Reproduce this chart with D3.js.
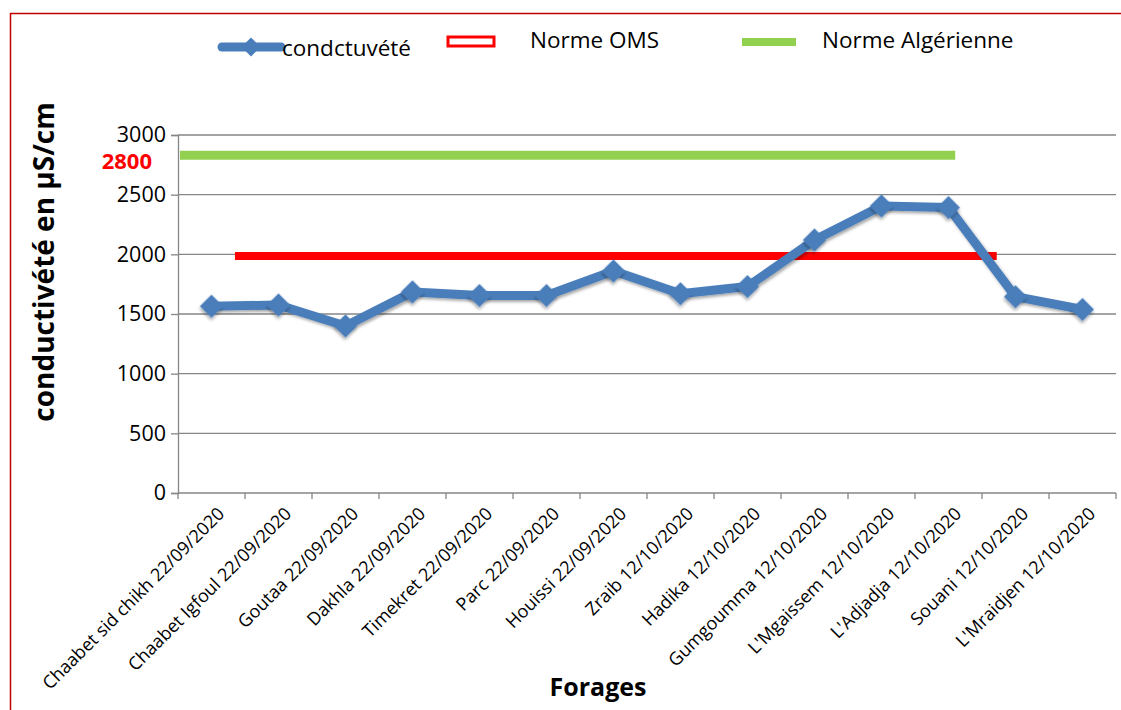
<!DOCTYPE html>
<html>
<head>
<meta charset="utf-8">
<script src="https://cdn.jsdelivr.net/npm/d3@7"></script>
<style>
  body { margin: 0; background: #fff; }
  svg { display: block; font-family: "Open Sans", "DejaVu Sans", sans-serif; }
</style>
</head>
<body>
<script>
// forages (sampling wells) and measured conductivity
const forages = [
  "Chaabet sid chikh 22/09/2020", "Chaabet Igfoul 22/09/2020", "Goutaa 22/09/2020",
  "Dakhla 22/09/2020", "Timekret 22/09/2020", "Parc 22/09/2020", "Houissi 22/09/2020",
  "Zraib 12/10/2020", "Hadika 12/10/2020", "Gumgoumma 12/10/2020", "L'Mgaissem 12/10/2020",
  "L'Adjadja 12/10/2020", "Souani 12/10/2020", "L'Mraidjen 12/10/2020"
];
const conductivite = [1565, 1575, 1400, 1685, 1655, 1655, 1860, 1670, 1730, 2120, 2405, 2392, 1645, 1538];

// norm lines: value and span in category-index units
const normeOMS = { value: 1985, from: 0.35, to: 11.72 };
const normeAlg = { value: 2830, from: -0.47, to: 11.1 };
const normeAlgLabel = "2800";

const yTicks = [0, 500, 1000, 1500, 2000, 2500, 3000];

const W = 1121, H = 710;
const margin = { top: 135, right: 5, bottom: 217, left: 178 };
const width = 1116 - margin.left;
const height = 493 - margin.top;

const svg = d3.select("body").append("svg")
  .attr("width", W).attr("height", H);

// outer frame (only top and left visible)
svg.append("path")
  .attr("d", `M10.5,${H} V13.5 H${W}`)
  .attr("fill", "none").attr("stroke", "#c00000").attr("stroke-width", 1.5);

const defs = svg.append("defs");
const f = defs.append("filter").attr("id", "shadow")
  .attr("x", "-50%").attr("y", "-50%").attr("width", "200%").attr("height", "200%");
f.append("feDropShadow").attr("dx", 1.5).attr("dy", 2).attr("stdDeviation", 1.5)
  .attr("flood-color", "#000").attr("flood-opacity", 0.35);

const g = svg.append("g").attr("transform", `translate(${margin.left},${margin.top})`);

const x = d3.scaleBand().domain(forages).range([0, width]);
const xi = d3.scaleLinear().domain([-0.5, forages.length - 0.5]).range([0, width]);
const y = d3.scaleLinear().domain([0, 3000]).range([height, 0]);

// gridlines
g.append("g").selectAll("line").data(yTicks.filter(d => d > 0)).join("line")
  .attr("x1", 0).attr("x2", width)
  .attr("y1", d => y(d)).attr("y2", d => y(d))
  .attr("stroke", "#868686").attr("stroke-width", 1.3);

// y axis
const yAxis = g.append("g").call(d3.axisLeft(y).tickValues(yTicks).tickFormat(d3.format("d")).tickSize(7).tickPadding(5));
yAxis.select(".domain").attr("stroke", "#868686").attr("stroke-width", 1.3);
yAxis.selectAll(".tick line").attr("stroke", "#868686").attr("stroke-width", 1.3);
yAxis.selectAll(".tick text").attr("font-size", 21.5).attr("fill", "#000")
  .attr("font-family", "Open Sans, sans-serif");

// x axis with ticks at category boundaries
g.append("line").attr("x1", 0).attr("x2", width).attr("y1", height).attr("y2", height)
  .attr("stroke", "#868686").attr("stroke-width", 1.3);
g.append("g").selectAll("line").data(d3.range(forages.length + 1)).join("line")
  .attr("x1", i => xi(i - 0.5)).attr("x2", i => xi(i - 0.5))
  .attr("y1", height).attr("y2", height + 6)
  .attr("stroke", "#868686").attr("stroke-width", 1.3);

g.append("g").selectAll("text").data(forages).join("text")
  .attr("transform", d => `translate(${x(d) + x.bandwidth() / 2 + 14},${height + 22}) rotate(-45)`)
  .attr("text-anchor", "end")
  .attr("font-size", 18)
  .attr("fill", "#000")
  .text(d => d);

// "2800" label
g.append("text")
  .attr("x", -26).attr("y", y(2800)).attr("dy", "0.48em")
  .attr("text-anchor", "end").attr("font-size", 22).attr("font-weight", "bold")
  .attr("fill", "#ff0000").text(normeAlgLabel);

// norm lines
g.append("line")
  .attr("x1", xi(normeAlg.from)).attr("x2", xi(normeAlg.to))
  .attr("y1", y(normeAlg.value)).attr("y2", y(normeAlg.value))
  .attr("stroke", "#92d050").attr("stroke-width", 9);
g.append("line")
  .attr("x1", xi(normeOMS.from)).attr("x2", xi(normeOMS.to))
  .attr("y1", y(normeOMS.value)).attr("y2", y(normeOMS.value))
  .attr("stroke", "#ff0000").attr("stroke-width", 8);

// conductivity series
const line = d3.line()
  .x((d, i) => x(forages[i]) + x.bandwidth() / 2)
  .y(d => y(d));
g.append("path").datum(conductivite)
  .attr("d", line)
  .attr("fill", "none").attr("stroke", "#4a7ebb").attr("stroke-width", 9)
  .attr("stroke-linejoin", "round")
  .attr("filter", "url(#shadow)");

g.append("g").selectAll("path").data(conductivite).join("path")
  .attr("transform", (d, i) => `translate(${x(forages[i]) + x.bandwidth() / 2},${y(d)}) rotate(45)`)
  .attr("d", d3.symbol().type(d3.symbolSquare).size(270))
  .attr("fill", "#4a7ebb")
  .attr("filter", "url(#shadow)");

// axis titles
svg.append("text")
  .attr("transform", "translate(54,262) rotate(-90)")
  .attr("text-anchor", "middle").attr("font-size", 28).attr("font-weight", "bold")
  .text("conductivété en µS/cm");
svg.append("text")
  .attr("x", 598).attr("y", 696)
  .attr("text-anchor", "middle").attr("font-size", 25).attr("font-weight", "bold")
  .text("Forages");

// legend
const lg = svg.append("g");
lg.append("line").attr("x1", 222).attr("x2", 281).attr("y1", 47).attr("y2", 47)
  .attr("stroke", "#4a7ebb").attr("stroke-width", 9).attr("stroke-linecap", "round");
lg.append("path").attr("transform", "translate(251,47) rotate(45)")
  .attr("d", d3.symbol().type(d3.symbolSquare).size(180)).attr("fill", "#4a7ebb");
lg.append("text").attr("x", 282).attr("y", 56).attr("font-size", 22.5).text("condctuvété");

lg.append("rect").attr("x", 448).attr("y", 37).attr("width", 46).attr("height", 9)
  .attr("fill", "#fff").attr("stroke", "#ff0000").attr("stroke-width", 3);
lg.append("text").attr("x", 530).attr("y", 48).attr("font-size", 22.5).text("Norme OMS");

lg.append("rect").attr("x", 742).attr("y", 38).attr("width", 54).attr("height", 8)
  .attr("fill", "#92d050");
lg.append("text").attr("x", 822).attr("y", 48).attr("font-size", 22.5).text("Norme Algérienne");
</script>
</body>
</html>
